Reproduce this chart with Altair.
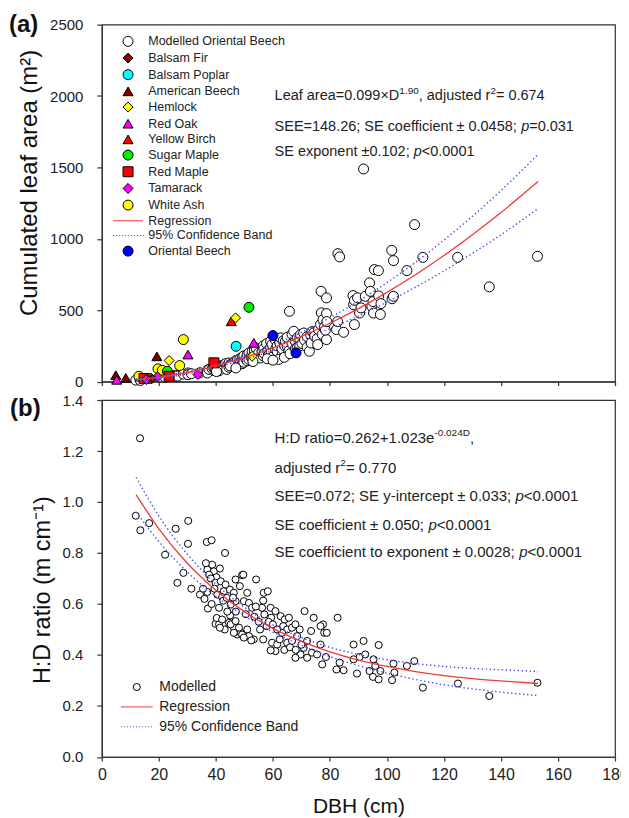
import altair as alt
import pandas as pd

FONT = "Liberation Sans"
RED = "#f03a3a"
BLUE = "#4b4bf5"

# ---------------- data: panel (a) ----------------
MOD_A_DBH = [11.9, 13.4, 13.5, 16.6, 22.2, 25.9, 26.5, 28.6, 30.3, 30.2, 31.4, 34.4, 36.8, 37.2, 38.5, 37.0,
             37.6, 38.7, 39.3, 39.9, 40.3, 40.5, 41.1, 41.4, 41.7, 42.2, 42.6, 42.8, 43.0, 43.1, 43.4, 43.8,
             44.6, 44.9, 45.2, 41.1, 43.8, 44.6, 40.2, 46.3, 46.3, 46.9, 46.9, 47.5, 48.1, 48.4, 48.7, 49.2,
             49.2, 49.6, 49.8, 49.8, 50.5, 51.0, 51.0, 51.6, 51.6, 52.4, 52.7, 52.7, 53.3, 53.5, 54.0, 54.1,
             55.0, 55.5, 45.0, 47.0, 53.0, 56.2, 56.6, 56.6, 56.8, 57.0, 57.8, 58.2, 58.5, 59.2, 59.2, 59.4,
             59.7, 60.0, 60.9, 60.9, 61.5, 61.5, 62.4, 62.7, 63.2, 63.2, 63.6, 64.1, 64.4, 65.0, 65.0, 65.6,
             65.8, 66.7, 66.7, 62.0, 64.0, 58.0, 60.0, 66.0, 67.3, 67.9, 67.9, 68.5, 68.5, 69.4, 69.7, 69.4,
             70.2, 70.8, 71.1, 72.0, 72.0, 72.8, 73.2, 73.4, 73.7, 74.3, 74.6, 75.5, 75.7, 76.0, 76.7, 76.9,
             77.0, 77.3, 77.6, 78.0, 78.8, 78.8, 78.8, 78.4, 78.9, 82.3, 82.8, 83.4, 84.8, 82.7, 88.1, 88.3,
             88.6, 88.6, 89.7, 90.4, 90.9, 91.8, 92.4, 93.9, 94.2, 94.7, 95.1, 95.3, 95.6, 97.0, 97.1, 97.7,
             97.9, 101.7, 101.8, 102.3, 102.3, 107.0, 109.7, 112.6, 124.8, 135.9, 152.8]
MOD_A_LA = [10, 15, 8, 22, 30, 45, 38, 52, 60, 48, 55, 62, 70, 82, 78, 60,
            85, 90, 95, 80, 100, 88, 105, 92, 110, 98, 115, 102, 120, 95, 125, 105,
            130, 115, 120, 75, 85, 100, 70, 135, 115, 145, 120, 150, 130, 160, 140, 170,
            125, 150, 180, 135, 160, 190, 145, 200, 155, 175, 210, 160, 185, 220, 170, 235,
            200, 165, 110, 95, 140, 210, 250, 180, 230, 195, 265, 215, 185, 240, 282, 205,
            260, 175, 225, 290, 212, 250, 270, 306, 189, 230, 285, 250, 282, 247, 310, 215,
            492, 265, 330, 155, 170, 160, 150, 195, 352, 280, 230, 306, 236, 300, 329, 250,
            266, 340, 290, 315, 240, 212, 329, 270, 350, 341, 317, 300, 259, 364, 400, 632,
            481, 330, 434, 380, 586, 476, 294, 360, 420, 364, 896, 873, 345, 420, 602, 539,
            399, 569, 586, 480, 516, 1489, 597, 691, 632, 527, 560, 480, 784, 777, 600, 470,
            546, 919, 580, 597, 847, 777, 1099, 870, 870, 663, 877]

OBS_SPECIES = ["American Beech", "American Beech", "American Beech", "Red Oak", "Red Oak", "Red Oak",
               "Yellow Birch", "Hemlock", "Hemlock", "Hemlock", "White Ash", "White Ash", "White Ash",
               "White Ash", "White Ash", "Sugar Maple", "Sugar Maple", "Red Maple", "Red Maple", "Red Maple",
               "Tamarack", "Tamarack", "Tamarack", "Balsam Poplar", "Balsam Fir", "Oriental Beech",
               "Oriental Beech"]
OBS_DBH = [4.9, 8.4, 19.3, 5.2, 30.2, 53.3, 45.4, 23.6, 46.9, 52.7, 28.6, 19.7, 21.2, 27.3, 13.0,
           51.6, 23.0, 39.3, 23.6, 14.8, 15.6, 19.5, 33.7, 47.1, 17.5, 60.0, 68.1]
OBS_LA = [45, 26, 176, 12, 189, 271, 422, 147, 446, 177, 294, 89, 79, 112, 37,
          520, 72, 131, 37, 21, 14, 33, 49, 247, 20, 322, 201]

# ---------------- data: panel (b) ----------------
MOD_B_DBH = [13.4, 11.9, 13.5, 16.6, 22.2, 25.9, 30.3, 30.2, 26.5, 28.6, 31.4, 34.4, 37.2, 36.8, 38.5, 43.2,
             37.0, 38.7, 39.3, 41.4, 37.6, 40.2, 38.2, 36.5, 37.0, 39.9, 41.7, 43.4, 42.8, 44.9, 40.5, 42.2,
             46.9, 49.2, 48.4, 46.3, 46.9, 45.2, 49.6, 54.1, 41.1, 42.6, 43.8, 46.0, 49.8, 51.6, 51.0, 52.7,
             56.8, 58.2, 56.6, 56.2, 57.0, 59.2, 60.9, 59.4, 57.8, 56.6, 59.7, 61.5, 60.9, 59.2,
             62.7, 64.1, 65.6, 63.6, 65.0, 66.7, 63.2, 62.4, 65.0, 66.7, 68.5, 69.4, 67.9,
             71.1, 74.3, 73.4, 72.0, 70.8, 69.7, 67.9, 72.0, 73.7, 75.5, 76.7, 78.0, 78.9, 77.6, 77.3, 78.6,
             82.7, 76.7, 82.3, 84.8, 83.4, 88.3, 91.8, 90.4, 89.5, 88.3, 92.4,
             95.3, 97.1, 93.9, 95.1, 97.1, 97.7, 95.9, 102.3, 101.8, 102.6, 107.0, 109.6, 112.6, 124.9,
             135.9, 152.8,
             39.9, 41.1, 43.1, 44.6, 46.3, 47.5, 48.7, 51.0, 52.7, 53.3, 40.3, 42.2, 41.4, 45.2, 46.9, 48.1,
             46.3, 49.2, 51.6, 49.8, 52.4, 50.5, 53.5, 55.0, 54.0, 47.0, 45.0, 44.0, 55.5, 58.5, 60.0, 61.5,
             64.0, 66.0, 68.0, 70.0, 36.0, 38.5, 39.5, 35.5]
MOD_B_HD = [1.250, 0.946, 0.889, 0.917, 0.793, 0.895, 0.926, 0.836, 0.683, 0.722, 0.660, 0.637, 0.582, 0.843, 0.850, 0.800,
            0.735, 0.754, 0.728, 0.739, 0.715, 0.705, 0.700, 0.760, 0.647, 0.683, 0.689, 0.676, 0.650, 0.656, 0.637, 0.627,
            0.696, 0.713, 0.670, 0.644, 0.611, 0.598, 0.715, 0.696, 0.585, 0.613, 0.624, 0.625, 0.611, 0.604, 0.644, 0.585,
            0.644, 0.650, 0.613, 0.585, 0.559, 0.585, 0.572, 0.546, 0.513, 0.461, 0.448, 0.441, 0.415, 0.418,
            0.552, 0.539, 0.546, 0.513, 0.500, 0.507, 0.487, 0.461, 0.448, 0.455, 0.474, 0.500, 0.520,
            0.572, 0.546, 0.494, 0.455, 0.428, 0.402, 0.389, 0.389, 0.409, 0.402, 0.441, 0.487, 0.487, 0.520, 0.363, 0.392,
            0.546, 0.513, 0.343, 0.340, 0.370, 0.441, 0.455, 0.392, 0.327, 0.383, 0.402,
            0.383, 0.439, 0.337, 0.314, 0.304, 0.337, 0.357, 0.366, 0.301, 0.331, 0.357, 0.376, 0.272, 0.288,
            0.239, 0.291,
            0.522, 0.520, 0.500, 0.526, 0.507, 0.480, 0.487, 0.500, 0.461, 0.461, 0.545, 0.539, 0.507, 0.520, 0.533, 0.507,
            0.487, 0.480, 0.474, 0.468, 0.457, 0.560, 0.550, 0.530, 0.590, 0.570, 0.555, 0.570, 0.500, 0.530, 0.520, 0.500,
            0.420, 0.430, 0.420, 0.440, 0.620, 0.600, 0.660, 0.660]

# ---------------- fitted curves ----------------
CURVE_DBH = [12, 20, 30, 40, 50, 60, 70, 80, 90, 100, 110, 120, 130, 140, 153]
REG_A = [11.1, 29.4, 63.4, 109.5, 167.3, 236.5, 317.0, 408.5, 510.8, 624.7, 748.2, 882.9, 1027.9, 1183.3, 1401]
UP_A = [19, 37, 72, 121, 181, 256, 344, 447, 563, 693, 835, 991, 1158, 1338, 1591]
LO_A = [3, 21, 54, 98, 153, 218, 290, 371, 459, 557, 661, 775, 898, 1028, 1211]
REG_B = [1.029, 0.895, 0.760, 0.654, 0.570, 0.504, 0.453, 0.412, 0.380, 0.355, 0.335, 0.319, 0.307, 0.298, 0.288]
UP_B = [1.097, 0.945, 0.795, 0.678, 0.587, 0.518, 0.468, 0.430, 0.402, 0.381, 0.366, 0.355, 0.347, 0.342, 0.335]
LO_B = [0.961, 0.845, 0.725, 0.630, 0.553, 0.490, 0.438, 0.394, 0.358, 0.329, 0.304, 0.283, 0.267, 0.254, 0.241]

X_TICKS = [0, 20, 40, 60, 80, 100, 120, 140, 160, 180]
YA_TICKS = [0, 500, 1000, 1500, 2000, 2500]
YB_TICKS = [0.0, 0.2, 0.4, 0.6, 0.8, 1.0, 1.2, 1.4]

# ---------------- legends ----------------
def dotted(half, step, dot):
    parts = []
    v = -half
    while v <= half + 1e-9:
        parts.append(f"M{v:.2f},0H{v + dot:.2f}")
        v += step
    return "".join(parts)

LEG_A = ["Modelled Oriental Beech", "Balsam Fir", "Balsam Poplar", "American Beech", "Hemlock", "Red Oak",
         "Yellow Birch", "Sugar Maple", "Red Maple", "Tamarack", "White Ash", "Regression",
         "95% Confidence Band", "Oriental Beech"]
LEG_A_FILL = ["white", "#800000", "#00ffff", "#800000", "#ffff00", "#ff00ff", "#ff0000", "#00ee00",
              "#ff0000", "#ff00ff", "#ffff00", "transparent", "transparent", "#0000ff"]
LEG_A_STROKE = ["black"] * 11 + [RED, BLUE, "black"]
LEG_A_SHAPE = ["circle", "diamond", "circle", "triangle-up", "diamond", "triangle-up", "triangle-up", "circle",
               "square", "diamond", "circle", "M-3,0H3", dotted(3, 0.6, 0.22), "circle"]

LEG_B = ["Modelled", "Regression", "95% Confidence Band"]
LEG_B_FILL = ["white", "transparent", "transparent"]
LEG_B_STROKE = ["black", RED, BLUE]
LEG_B_SHAPE = ["circle", "M-4.5,0H4.5", dotted(4.5, 0.85, 0.3)]

# ---------------- annotation text ----------------
W = {' ': .278, '.': .278, ',': .278, ';': .278, ':': .278, '=': .584, '+': .584, '-': .333, '±': .549,
     '×': .584, '<': .584, '%': .889, '(': .333, ')': .333, 'a': .556, 'b': .556, 'c': .5, 'd': .556,
     'e': .556, 'f': .278, 'g': .556, 'h': .556, 'i': .222, 'j': .222, 'k': .5, 'l': .222, 'm': .833,
     'n': .556, 'o': .556, 'p': .556, 'r': .333, 's': .5, 't': .278, 'u': .556, 'v': .5, 'x': .5, 'y': .5,
     'A': .667, 'B': .667, 'C': .722, 'D': .722, 'E': .667, 'H': .722, 'L': .556, 'S': .667}
PX_PER_DBH = 514 / 180


def text_rows(rows, x0, size, sup):
    out = []
    for segs, y in rows:
        off = 0.0
        for txt, st in segs:
            fs = sup if st == "s" else size
            out.append({"x": x0 + off / PX_PER_DBH, "y": y, "t": txt, "st": st})
            off += sum(W.get(ch, .556) for ch in txt) * fs
    return pd.DataFrame(out)


ANN_A = [
    ([("Leaf area=0.099×D", "n"), ("1.90", "s"), (", adjusted r", "n"), ("2", "s"), ("= 0.674", "n")], 2000),
    ([("SEE=148.26; SE coefficient ± 0.0458; ", "n"), ("p", "i"), ("=0.031", "n")], 1780),
    ([("SE exponent ±0.102; ", "n"), ("p", "i"), ("<0.0001", "n")], 1605),
]
ANN_B = [
    ([("H:D ratio=0.262+1.023e", "n"), ("-0.024D", "s"), (",", "n")], 1.250),
    ([("adjusted r", "n"), ("2", "s"), ("= 0.770", "n")], 1.133),
    ([("SEE=0.072; SE y-intercept ± 0.033; ", "n"), ("p", "i"), ("<0.0001", "n")], 1.022),
    ([("SE coefficient ± 0.050; ", "n"), ("p", "i"), ("<0.0001", "n")], 0.911),
    ([("SE coefficient to exponent ± 0.0028; ", "n"), ("p", "i"), ("<0.0001", "n")], 0.804),
]

# ---------------- encodings ----------------
x_scale = alt.Scale(domain=[0, 180], nice=False, zero=False)
XA = alt.X("x:Q", scale=x_scale,
           axis=alt.Axis(values=X_TICKS, labels=False, title=None, tickSize=4, grid=False, labelFlush=False))
YA = alt.Y("y:Q", scale=alt.Scale(domain=[0, 2500], nice=False),
           axis=alt.Axis(values=YA_TICKS, format="d", labelFontSize=15, labelPadding=14, tickSize=5,
                         labelFlush=False, title="Cumulated leaf area (m²)", titleFontSize=24, titlePadding=8,
                         titleY=158))
XB = alt.X("x:Q", scale=x_scale,
           axis=alt.Axis(values=X_TICKS, format="d", labelFontSize=16, labelPadding=6, tickSize=4,
                         labelFlush=False, title="DBH (cm)", titleFontSize=21, titlePadding=13))
YB = alt.Y("y:Q", scale=alt.Scale(domain=[0, 1.4], nice=False),
           axis=alt.Axis(values=YB_TICKS, format=".1f", labelFontSize=15, labelPadding=14, tickSize=5,
                         labelFlush=False, title="H:D ratio (m cm⁻¹)", titleFontSize=23.5, titlePadding=8,
                         titleY=190))


def annotations(df, X, Y, size, sup):
    base = alt.Chart(df)
    n = base.transform_filter("datum.st == 'n'").mark_text(
        align="left", baseline="middle", font=FONT, fontSize=size, color="#222").encode(x=X, y=Y, text="t:N")
    s = base.transform_filter("datum.st == 's'").mark_text(
        align="left", baseline="middle", font=FONT, fontSize=sup, dy=-5, color="#222").encode(x=X, y=Y, text="t:N")
    i = base.transform_filter("datum.st == 'i'").mark_text(
        align="left", baseline="middle", font=FONT, fontSize=size, fontStyle="italic", color="#222").encode(
        x=X, y=Y, text="t:N")
    return [n, s, i]


def curves(X, Y, reg, up, lo):
    df = pd.DataFrame({"x": CURVE_DBH * 3, "y": up + lo + reg, "k": ["up"] * 15 + ["lo"] * 15 + ["reg"] * 15})
    band = alt.Chart(df).transform_filter("datum.k != 'reg'").mark_line(
        color=BLUE, strokeWidth=1.4, strokeDash=[1.4, 2.6], interpolate="monotone").encode(x=X, y=Y, detail="k:N")
    line = alt.Chart(df).transform_filter("datum.k == 'reg'").mark_line(
        color=RED, strokeWidth=1.3, interpolate="monotone").encode(x=X, y=Y)
    return [band, line]


# ---------------- panel (a) ----------------
pts_a_df = pd.DataFrame({
    "x": MOD_A_DBH + OBS_DBH,
    "y": MOD_A_LA + OBS_LA,
    "sa": ["Modelled Oriental Beech"] * len(MOD_A_DBH) + OBS_SPECIES,
})
leg_a = alt.Legend(title=None, orient="none", legendX=20, legendY=10.5, symbolSize=100, symbolStrokeWidth=1,
                   labelFont=FONT, labelFontSize=12.5, labelColor="#222", labelOffset=14, rowPadding=1.7,
                   padding=0, symbolOpacity=1)
pts_a = alt.Chart(pts_a_df).mark_point(filled=True, size=100, strokeWidth=1, opacity=1).encode(
    x=XA, y=YA,
    fill=alt.Fill("sa:N", scale=alt.Scale(domain=LEG_A, range=LEG_A_FILL), legend=leg_a),
    stroke=alt.Stroke("sa:N", scale=alt.Scale(domain=LEG_A, range=LEG_A_STROKE), legend=leg_a),
    shape=alt.Shape("sa:N", scale=alt.Scale(domain=LEG_A, range=LEG_A_SHAPE), legend=leg_a),
)
lab_a = alt.Chart(pd.DataFrame({"x": [-32.6], "y": [2500], "t": ["(a)"]})).mark_text(
    align="left", baseline="middle", font=FONT, fontSize=24, fontWeight="bold", color="#111").encode(
    x=XA, y=YA, text="t:N")

panel_a = alt.layer(
    pts_a, *curves(XA, YA, REG_A, UP_A, LO_A),
    *annotations(text_rows(ANN_A, 60.6, 14.5, 10), XA, YA, 14.5, 10), lab_a
).properties(width=514, height=357.5)

# ---------------- panel (b) ----------------
pts_b_df = pd.DataFrame({"x": MOD_B_DBH, "y": MOD_B_HD, "sb": ["Modelled"] * len(MOD_B_DBH)})
leg_b = alt.Legend(title=None, orient="none", legendX=28, legendY=280.5, symbolSize=50, symbolStrokeWidth=1,
                   labelFont=FONT, labelFontSize=14, labelColor="#222", labelOffset=15.5, rowPadding=5.9,
                   padding=0, symbolOpacity=1)
pts_b = alt.Chart(pts_b_df).mark_point(filled=True, size=50, strokeWidth=1, opacity=1).encode(
    x=XB, y=YB,
    fill=alt.Fill("sb:N", scale=alt.Scale(domain=LEG_B, range=LEG_B_FILL), legend=leg_b),
    stroke=alt.Stroke("sb:N", scale=alt.Scale(domain=LEG_B, range=LEG_B_STROKE), legend=leg_b),
    shape=alt.Shape("sb:N", scale=alt.Scale(domain=LEG_B, range=LEG_B_SHAPE), legend=leg_b),
)
lab_b = alt.Chart(pd.DataFrame({"x": [-32.2], "y": [1.365], "t": ["(b)"]})).mark_text(
    align="left", baseline="middle", font=FONT, fontSize=24, fontWeight="bold", color="#111").encode(
    x=XB, y=YB, text="t:N")

panel_b = alt.layer(
    pts_b, *curves(XB, YB, REG_B, UP_B, LO_B),
    *annotations(text_rows(ANN_B, 60.6, 15, 10), XB, YB, 15, 10), lab_b
).properties(width=514, height=357.5)

chart = alt.vconcat(panel_a, panel_b, spacing=1).resolve_scale(
    x="independent", y="independent", fill="independent", stroke="independent", shape="independent"
).resolve_legend(fill="independent", stroke="independent", shape="independent").properties(
    padding={"left": 0, "top": 3, "right": -8, "bottom": 0}
).configure_view(stroke="#333", strokeWidth=1.2).configure_axis(
    labelFont=FONT, titleFont=FONT, titleFontWeight="normal", grid=False, domainColor="#333",
    tickColor="#333", labelColor="#222", titleColor="#111", domainWidth=1.2, tickWidth=1.2
)

chart.save("out.html", embed_options={"renderer": "svg", "actions": False})
